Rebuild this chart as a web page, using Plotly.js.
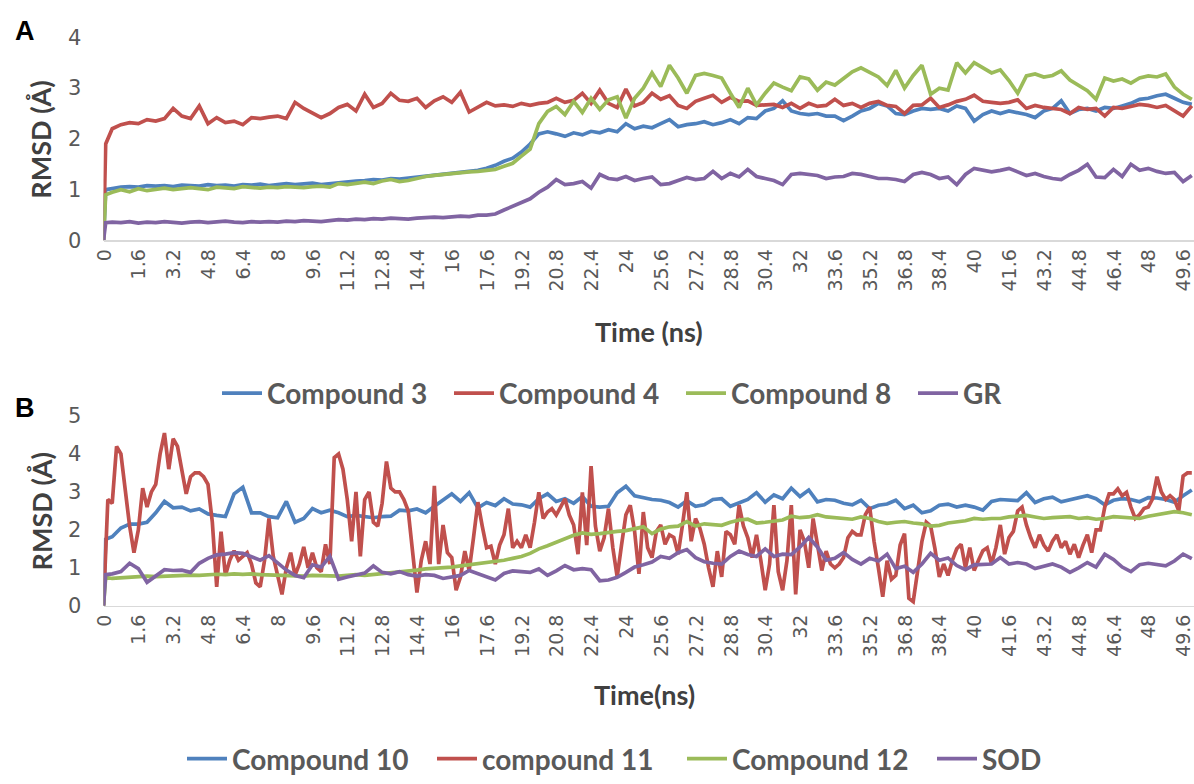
<!DOCTYPE html>
<html>
<head>
<meta charset="utf-8">
<script src="https://cdn.plot.ly/plotly-3.0.1.min.js"></script>
<style>
html,body{margin:0;padding:0;background:#fff;}
#chart{width:1194px;height:784px;}
</style>
</head>
<body>
<div id="chart"></div>
<script>
// Sampling times (ns)
const timeA = [0,0.1,0.4,0.8,1.2,1.6,2,2.4,2.8,3.2,3.6,4,4.4,4.8,5.2,5.6,6,6.4,6.8,7.2,7.6,8,8.4,8.8,9.2,9.6,10,10.4,10.8,11.2,11.6,12,12.4,12.8,13.2,13.6,14,14.4,14.8,15.2,15.6,16,16.4,16.8,17.2,17.6,18,18.4,18.8,19.2,19.6,20,20.4,20.8,21.2,21.6,22,22.4,22.8,23.2,23.6,24,24.4,24.8,25.2,25.6,26,26.4,26.8,27.2,27.6,28,28.4,28.8,29.2,29.6,30,30.4,30.8,31.2,31.6,32,32.4,32.8,33.2,33.6,34,34.4,34.8,35.2,35.6,36,36.4,36.8,37.2,37.6,38,38.4,38.8,39.2,39.6,40,40.4,40.8,41.2,41.6,42,42.4,42.8,43.2,43.6,44,44.4,44.8,45.2,45.6,46,46.4,46.8,47.2,47.6,48,48.4,48.8,49.2,49.6,50];
const time11 = [0,0.2,0.4,0.6,0.8,1,1.2,1.4,1.6,1.8,
2,2.2,2.4,2.6,2.8,3,3.2,3.4,3.6,3.8,
4,4.2,4.4,4.6,4.8,5,5.2,5.4,5.6,5.8,
6,6.2,6.4,6.6,6.8,7,7.2,7.4,7.6,7.8,
8,8.2,8.4,8.6,8.8,9,9.2,9.4,9.6,9.8,
10,10.2,10.4,10.6,10.8,11,11.2,11.4,11.6,11.8,
12,12.2,12.4,12.6,12.8,13,13.2,13.4,13.6,13.8,
14,14.2,14.4,14.6,14.8,15,15.2,15.4,15.6,15.8,
16,16.2,16.4,16.6,16.8,17,17.2,17.4,17.6,17.8,
18,18.2,18.4,18.6,18.8,19,19.2,19.4,19.6,19.8,
20,20.2,20.4,20.6,20.8,21,21.2,21.4,21.6,21.8,
22,22.2,22.4,22.6,22.8,23,23.2,23.4,23.6,23.8,
24,24.2,24.4,24.6,24.8,25,25.2,25.4,25.6,25.8,
26,26.2,26.4,26.6,26.8,27,27.2,27.4,27.6,27.8,
28,28.2,28.4,28.6,28.8,29,29.2,29.4,29.6,29.8,
30,30.2,30.4,30.6,30.8,31,31.2,31.4,31.6,31.8,
32,32.2,32.4,32.6,32.8,33,33.2,33.4,33.6,33.8,
34,34.2,34.4,34.6,34.8,35,35.2,35.4,35.6,35.8,
36,36.2,36.4,36.6,36.8,37,37.2,37.4,37.6,37.8,
38,38.2,38.4,38.6,38.8,39,39.2,39.4,39.6,39.8,
40,40.2,40.4,40.6,40.8,41,41.2,41.4,41.6,41.8,
42,42.2,42.4,42.6,42.8,43,43.2,43.4,43.6,43.8,
44,44.2,44.4,44.6,44.8,45,45.2,45.4,45.6,45.8,
46,46.2,46.4,46.6,46.8,47,47.2,47.4,47.6,47.8,
48,48.2,48.4,48.6,48.8,49,49.2,49.4,49.6,49.8,
50];

// Tick labels
const tickVals = [0,1.6,3.2,4.8,6.4,8,9.6,11.2,12.8,14.4,16,17.6,19.2,20.8,22.4,24,25.6,27.2,28.8,30.4,32,33.6,35.2,36.8,38.4,40,41.6,43.2,44.8,46.4,48,49.6];
const tickText = ["0","1.6","3.2","4.8","6.4","8","9.6","11.2","12.8","14.4","16","17.6","19.2","20.8","22.4","24","25.6","27.2","28.8","30.4","32","33.6","35.2","36.8","38.4","40","41.6","43.2","44.8","46.4","48","49.6"];

// Panel A: RMSD (Å)
const compound3 = [0,1.0,
1.02,1.05,1.06,1.05,1.08,1.07,1.08,1.06,1.09,1.08,
1.07,1.1,1.08,1.09,1.07,1.1,1.09,1.11,1.08,1.1,
1.12,1.1,1.11,1.13,1.1,1.12,1.14,1.15,1.17,1.18,
1.2,1.19,1.22,1.21,1.23,1.25,1.27,1.28,1.31,1.33,
1.35,1.37,1.38,1.42,1.48,1.56,1.62,1.74,1.9,2.1,
2.14,2.1,2.05,2.12,2.08,2.15,2.12,2.18,2.14,2.3,
2.2,2.25,2.22,2.3,2.38,2.24,2.28,2.3,2.34,2.28,
2.32,2.38,2.3,2.42,2.4,2.55,2.6,2.75,2.55,2.5,
2.48,2.5,2.45,2.45,2.36,2.45,2.55,2.6,2.7,2.65,
2.5,2.48,2.55,2.6,2.58,2.6,2.55,2.65,2.6,2.35,
2.48,2.55,2.5,2.55,2.52,2.48,2.42,2.55,2.6,2.75,
2.5,2.58,2.6,2.55,2.62,2.6,2.65,2.7,2.78,2.8,
2.85,2.88,2.8,2.72,2.68];
const compound4 = [0,1.9,
2.2,2.28,2.32,2.3,2.38,2.35,2.4,2.6,2.45,2.4,
2.65,2.3,2.42,2.32,2.35,2.28,2.42,2.4,2.43,2.45,
2.4,2.72,2.6,2.52,2.42,2.5,2.62,2.68,2.55,2.88,
2.62,2.7,2.9,2.76,2.74,2.8,2.62,2.75,2.83,2.72,
2.92,2.53,2.62,2.72,2.65,2.67,2.64,2.7,2.66,2.7,
2.72,2.8,2.72,2.76,2.9,2.7,2.96,2.7,2.62,2.98,
2.65,2.72,2.9,2.78,2.85,2.66,2.6,2.74,2.8,2.86,
2.72,2.82,2.74,2.75,2.66,2.67,2.68,2.62,2.7,2.6,
2.7,2.64,2.66,2.78,2.66,2.7,2.62,2.7,2.74,2.66,
2.64,2.5,2.66,2.67,2.8,2.62,2.67,2.74,2.78,2.86,
2.74,2.72,2.7,2.72,2.77,2.6,2.66,2.62,2.6,2.58,
2.5,2.62,2.58,2.6,2.45,2.62,2.6,2.64,2.68,2.66,
2.62,2.66,2.55,2.45,2.65];
const compound8 = [0,0.9,
0.95,1.0,0.96,1.02,0.98,1.0,1.03,1.0,1.02,1.04,
1.02,1.0,1.05,1.03,1.02,1.06,1.04,1.03,1.05,1.04,
1.06,1.05,1.04,1.06,1.07,1.05,1.12,1.1,1.13,1.15,
1.12,1.17,1.2,1.16,1.18,1.22,1.26,1.28,1.3,1.32,
1.34,1.35,1.36,1.38,1.4,1.46,1.52,1.66,1.8,2.3,
2.54,2.64,2.48,2.74,2.52,2.8,2.58,2.77,2.83,2.41,
2.8,3.0,3.3,3.03,3.45,3.2,2.9,3.25,3.29,3.25,
3.2,2.9,2.62,3.0,2.67,2.9,3.1,3.02,2.95,3.22,
3.18,2.96,3.12,3.06,3.18,3.32,3.4,3.3,3.22,3.05,
3.35,3.0,3.25,3.45,2.88,3.0,2.96,3.5,3.3,3.5,
3.4,3.3,3.36,3.15,2.9,3.24,3.28,3.22,3.25,3.34,
3.16,3.06,2.95,2.78,3.2,3.14,3.18,3.1,3.2,3.24,
3.22,3.28,3.02,2.88,2.78];
const gr = [0,0.35,
0.36,0.35,0.37,0.34,0.36,0.35,0.37,0.36,0.34,0.36,
0.37,0.35,0.36,0.38,0.36,0.35,0.37,0.36,0.37,0.36,
0.38,0.37,0.39,0.38,0.37,0.39,0.41,0.4,0.42,0.41,
0.43,0.42,0.44,0.43,0.42,0.44,0.45,0.46,0.45,0.47,
0.48,0.47,0.5,0.5,0.52,0.6,0.68,0.74,0.82,0.95,
1.05,1.2,1.1,1.12,1.16,1.03,1.3,1.22,1.2,1.26,
1.18,1.22,1.25,1.1,1.12,1.18,1.24,1.2,1.22,1.36,
1.22,1.32,1.25,1.4,1.26,1.22,1.18,1.1,1.3,1.32,
1.3,1.28,1.22,1.25,1.26,1.32,1.3,1.26,1.22,1.22,
1.2,1.16,1.3,1.34,1.3,1.22,1.25,1.1,1.3,1.42,
1.38,1.35,1.38,1.42,1.35,1.28,1.32,1.26,1.22,1.2,
1.3,1.38,1.5,1.25,1.24,1.4,1.26,1.5,1.38,1.42,
1.36,1.32,1.34,1.16,1.28];

// Panel B: RMSD (Å)
const compound10 = [0,1.75,
1.82,2.05,2.15,2.15,2.2,2.45,2.75,2.58,2.6,2.5,
2.55,2.42,2.38,2.35,2.95,3.12,2.45,2.45,2.35,2.32,
2.75,2.2,2.3,2.56,2.45,2.52,2.45,2.35,2.38,2.35,
2.32,2.35,2.36,2.52,2.5,2.55,2.45,2.62,2.78,2.95,
2.75,2.98,2.58,2.72,2.64,2.82,2.68,2.66,2.6,2.82,
2.95,2.75,2.82,2.7,2.88,2.62,2.6,2.62,2.98,3.15,
2.9,2.85,2.8,2.78,2.72,2.6,2.77,2.62,2.66,2.8,
2.82,2.62,2.72,2.8,2.98,2.73,2.92,2.82,3.1,2.88,
3.05,2.74,2.8,2.78,2.7,2.66,2.78,2.56,2.65,2.68,
2.78,2.56,2.65,2.45,2.5,2.65,2.68,2.6,2.65,2.6,
2.52,2.75,2.8,2.78,2.77,2.98,2.72,2.82,2.86,2.74,
2.8,2.86,2.9,2.82,2.66,2.78,2.82,2.8,2.74,2.85,
2.84,2.8,2.73,2.9,3.05];
const compound11 = [0,2.8,2.7,4.2,4.0,3.1,2.1,1.4,2.0,3.1,
2.6,3.0,3.2,4.0,4.55,3.6,4.4,4.2,3.6,2.95,
3.4,3.5,3.5,3.4,3.2,2.2,0.5,1.95,0.8,1.2,
1.45,1.2,1.3,1.4,1.1,0.6,0.5,1.2,2.3,1.3,
0.8,0.3,1.0,1.4,0.8,1.1,1.55,1.0,1.4,1.0,
0.9,1.62,1.1,3.9,4.0,3.6,2.8,1.7,3.0,1.3,
2.8,3.0,2.2,2.1,2.7,3.8,3.1,3.0,3.0,2.8,
2.5,1.5,0.35,1.2,1.7,1.1,3.16,1.1,2.13,1.4,
1.27,0.41,0.76,1.44,0.93,1.8,2.73,2.1,1.53,1.57,
1.1,1.6,1.87,2.56,1.53,1.7,1.53,1.87,1.53,2.2,
2.99,2.3,2.47,2.56,2.39,2.6,2.82,2.39,2.13,1.36,
2.99,1.6,3.68,2.1,1.44,1.79,2.56,1.53,0.76,1.6,
2.4,2.65,1.96,0.84,2.47,1.53,1.27,1.96,2.13,1.62,
1.87,1.8,1.36,2.13,2.99,1.7,2.3,2.04,1.62,1.0,
0.5,1.44,0.76,1.96,1.87,1.62,2.65,2.1,1.79,1.27,
1.87,1.19,0.41,1.1,2.65,0.9,0.41,1.19,2.65,0.3,
2.0,1.7,1.0,2.3,1.6,0.93,1.44,1.1,1.0,1.1,
1.27,1.79,1.96,1.87,1.87,2.4,2.6,1.7,1.0,0.24,
1.19,0.7,0.8,1.6,1.9,0.2,0.11,0.9,1.7,2.2,
2.1,1.5,0.76,1.1,0.8,1.2,1.5,1.62,1.0,1.53,
0.93,1.2,1.45,1.53,1.1,1.53,2.13,1.36,1.8,1.96,
2.5,2.6,2.13,1.79,1.53,1.87,1.6,1.44,1.7,1.87,
1.53,1.7,1.36,1.62,1.27,1.6,1.87,1.4,2.0,2.0,
2.6,2.95,2.95,3.08,2.9,2.99,2.6,2.3,2.4,2.56,
2.6,2.82,3.4,3.0,2.8,2.9,2.8,2.5,3.42,3.5,
3.5];
const compound12 = [0,0.75,
0.72,0.74,0.75,0.76,0.78,0.77,0.78,0.8,0.79,0.81,
0.8,0.82,0.83,0.82,0.84,0.83,0.84,0.82,0.81,0.82,
0.8,0.79,0.78,0.8,0.79,0.8,0.78,0.8,0.82,0.8,
0.82,0.84,0.86,0.88,0.9,0.94,0.97,0.98,1.0,1.02,
1.05,1.08,1.1,1.12,1.15,1.2,1.25,1.3,1.38,1.5,
1.58,1.68,1.76,1.86,1.92,1.88,1.9,1.94,1.96,1.98,
2.02,2.08,1.9,2.02,2.08,2.1,2.22,2.1,2.16,2.14,
2.12,2.2,2.26,2.28,2.18,2.2,2.24,2.26,2.36,2.32,
2.34,2.4,2.34,2.32,2.3,2.28,2.34,2.3,2.22,2.17,
2.2,2.22,2.18,2.16,2.1,2.12,2.18,2.2,2.24,2.3,
2.28,2.3,2.3,2.34,2.36,2.38,2.34,2.3,2.32,2.34,
2.35,2.3,2.32,2.28,2.3,2.35,2.34,2.32,2.3,2.36,
2.4,2.44,2.48,2.45,2.4];
const sod = [0,0.82,
0.84,0.9,1.12,0.98,0.62,0.78,0.95,0.93,0.94,0.88,
1.12,1.25,1.34,1.36,1.4,1.38,1.3,1.2,1.32,1.12,
0.94,0.8,0.74,1.08,1.02,1.3,0.7,0.76,0.82,0.86,
1.05,0.88,0.84,0.9,0.82,0.78,0.82,0.8,0.72,0.76,
0.8,0.93,0.84,0.76,0.68,0.85,0.92,0.9,0.88,0.97,
0.8,0.92,1.06,0.95,0.98,0.95,0.66,0.68,0.75,0.88,
1.02,1.08,1.15,1.3,1.25,1.4,1.48,1.27,1.16,1.12,
1.1,1.3,1.44,1.35,1.3,1.5,1.3,1.36,1.35,1.55,
1.8,1.55,1.2,1.25,1.4,1.22,1.1,1.25,1.18,1.36,
0.98,1.04,0.88,1.1,1.38,1.2,1.26,1.06,0.95,1.08,
1.1,1.1,1.27,1.1,1.14,1.1,0.98,1.05,1.1,1.02,
0.88,1.0,1.14,1.02,1.36,1.22,1.02,0.9,1.08,1.12,
1.08,1.05,1.18,1.36,1.24];

const BLUE = '#4F81BD', RED = '#C0504D', GREEN = '#9BBB59', PURPLE = '#8064A2';
const LW = 3.7;
const FONT = 'Lato, "Open Sans", sans-serif';
const TICKFONT = '"DejaVu Sans", Verdana, sans-serif';

function tr(x, y, name, color, xa, ya, leg) {
  return {x: x, y: y, name: name, type: 'scatter', mode: 'lines',
    line: {color: color, width: LW, shape: 'linear'},
    xaxis: xa, yaxis: ya, legend: leg, hoverinfo: 'skip'};
}

const data = [
  tr(timeA, compound3, 'Compound 3', BLUE, 'x', 'y', 'legend'),
  tr(timeA, compound4, 'Compound 4', RED, 'x', 'y', 'legend'),
  tr(timeA, compound8, 'Compound 8', GREEN, 'x', 'y', 'legend'),
  tr(timeA, gr, 'GR', PURPLE, 'x', 'y', 'legend'),
  tr(timeA, compound10, 'Compound 10', BLUE, 'x2', 'y2', 'legend2'),
  tr(time11, compound11, 'compound 11', RED, 'x2', 'y2', 'legend2'),
  tr(timeA, compound12, 'Compound 12', GREEN, 'x2', 'y2', 'legend2'),
  tr(timeA, sod, 'SOD', PURPLE, 'x2', 'y2', 'legend2')
];

const W = 1194, H = 784;
const xDom = [103.5 / W, 1];
function xax(anchor) {
  return {domain: xDom, range: [0, 50.1], anchor: anchor,
    tickmode: 'array', tickvals: tickVals, ticktext: tickText,
    tickangle: -90, tickfont: {family: TICKFONT, size: 19, color: '#595959'},
    ticklabeloverflow: 'allow', ticklabelshift: 1,
    showline: true, linecolor: '#d9d9d9', linewidth: 1.2,
    showgrid: false, zeroline: false, ticks: '', fixedrange: true};
}
function yax(anchor, dom, maxv) {
  return {domain: dom, range: [0, maxv], anchor: anchor, dtick: 1,
    tickfont: {family: TICKFONT, size: 21, color: '#595959'},
    showline: false, showgrid: false, zeroline: false,
    ticks: 'outside', ticklen: 17, tickcolor: 'rgba(0,0,0,0)', fixedrange: true};
}
const legBase = {orientation: 'h', xanchor: 'left', yanchor: 'middle',
  font: {family: FONT, size: 28, color: '#595959', weight: 'bold'},
  bgcolor: 'rgba(0,0,0,0)', itemwidth: 40, tracegroupgap: 0,
  entrywidthmode: 'pixels'};

const titleFont = {family: FONT, size: 27, color: '#404040', weight: 'bold'};
const layout = {
  width: W, height: H,
  margin: {l: 0, r: 0, t: 0, b: 0},
  paper_bgcolor: '#ffffff', plot_bgcolor: '#ffffff',
  showlegend: true,
  xaxis: xax('y'),
  yaxis: yax('x', [1 - 244.5 / H, 1 - 38 / H], 4),
  xaxis2: xax('y2'),
  yaxis2: yax('x2', [1 - 616 / H, 1 - 423 / H], 5),
  legend: Object.assign({}, legBase, {x: 217 / W, y: 1 - 400 / H, entrywidth: 177}),
  legend2: Object.assign({}, legBase, {x: 182 / W, y: 1 - 772 / H, entrywidth: 195}),
  annotations: [
    {text: 'A', xref: 'paper', yref: 'paper', x: 25 / W, y: 1 - 32 / H, showarrow: false,
      font: {family: 'Liberation Sans, Arial, sans-serif', size: 27, color: '#000', weight: 'bold'}, xanchor: 'center', yanchor: 'middle'},
    {text: 'B', xref: 'paper', yref: 'paper', x: 25 / W, y: 1 - 415 / H, showarrow: false,
      font: {family: 'Liberation Sans, Arial, sans-serif', size: 27, color: '#000', weight: 'bold'}, xanchor: 'center', yanchor: 'middle'},
    {text: 'RMSD (Å)', xref: 'paper', yref: 'paper', x: 41 / W, y: 1 - 142 / H, showarrow: false,
      textangle: -90, font: titleFont, xanchor: 'center', yanchor: 'middle'},
    {text: 'RMSD (Å)', xref: 'paper', yref: 'paper', x: 41 / W, y: 1 - 520 / H, showarrow: false,
      textangle: -90, font: titleFont, xanchor: 'center', yanchor: 'middle'},
    {text: 'Time (ns)', xref: 'paper', yref: 'paper', x: 649 / W, y: 1 - 337 / H, showarrow: false,
      font: titleFont, xanchor: 'center', yanchor: 'middle'},
    {text: 'Time(ns)', xref: 'paper', yref: 'paper', x: 645 / W, y: 1 - 706 / H, showarrow: false,
      font: titleFont, xanchor: 'center', yanchor: 'middle'}
  ]
};

Plotly.newPlot('chart', data, layout, {staticPlot: true, displayModeBar: false});
</script>
</body>
</html>
